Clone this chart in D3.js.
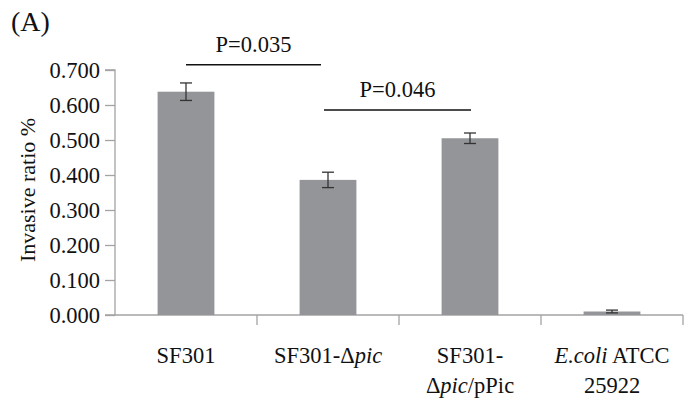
<!DOCTYPE html>
<html><head><meta charset="utf-8">
<script src="https://cdn.jsdelivr.net/npm/d3@7"></script>
<style>body{margin:0;background:#fff}svg{display:block}svg text{font-family:"Liberation Serif","Times New Roman",serif}</style>
</head><body><svg id="c" width="687" height="403"></svg>
<script>
const categories = ["SF301", "SF301-Δpic", "SF301-Δpic/pPic", "E.coli ATCC 25922"];
const values = [0.638, 0.386, 0.505, 0.010];
const errors = [0.025, 0.022, 0.015, 0.004];
const yTicks = [0, 0.1, 0.2, 0.3, 0.4, 0.5, 0.6, 0.7];
const sigPairs = [{a:0, b:1, label:"P=0.035", level:0.715}, {a:1, b:2, label:"P=0.046", level:0.586}];

(function(){
const svg = d3.select("#c");
const mLeft = 115, mRight = 683, mTop = 70, mBottom = 315;
const x = d3.scaleBand().domain(categories).range([mLeft, mRight]).paddingInner(0).paddingOuter(0);
const y = d3.scaleLinear().domain([0, 0.7]).range([mBottom, mTop]);
const axisColor = "#a3a3a3";
const fs = "22.5px";

// Y axis
const ya = svg.append("g").attr("transform", `translate(${mLeft},0)`)
  .call(d3.axisLeft(y).tickValues(yTicks).tickFormat(d3.format(".3f")).tickSize(10).tickPadding(5));
ya.select(".domain").attr("stroke", axisColor).attr("stroke-width", 1.3).attr("d", `M-10,${mTop}H0V${mBottom}H-10`);
ya.selectAll(".tick line").attr("stroke", axisColor).attr("stroke-width", 1.3);
ya.selectAll(".tick text").attr("font-family", null).style("font-size", fs).attr("fill", "#111");

// X axis
const xa = svg.append("g").attr("transform", `translate(0,${mBottom})`)
  .call(d3.axisBottom(x).tickSize(0).tickFormat(""));
xa.select(".domain").attr("stroke", axisColor).attr("stroke-width", 1.3).attr("d", `M${mLeft},0H${mRight}`);
const bounds = categories.map((c) => x(c) + x.bandwidth());
svg.append("g").selectAll("line").data(bounds).join("line")
  .attr("x1", d => d).attr("x2", d => d).attr("y1", mBottom).attr("y2", mBottom + 10)
  .attr("stroke", axisColor).attr("stroke-width", 1.3);

// bars
const bw = x.bandwidth() * 0.4;
const cx = c => x(c) + x.bandwidth() / 2;
svg.append("g").selectAll("rect").data(categories).join("rect")
  .attr("x", c => cx(c) - bw / 2).attr("width", bw)
  .attr("y", (c, i) => y(values[i])).attr("height", (c, i) => y(0) - y(values[i]))
  .attr("fill", "#939598");

// error bars
const eg = svg.append("g").attr("stroke", "#333").attr("stroke-width", 1.3);
categories.forEach((c, i) => {
  const xc = cx(c), w = 6;
  eg.append("line").attr("x1", xc).attr("x2", xc).attr("y1", y(values[i] + errors[i])).attr("y2", y(values[i] - errors[i]));
  eg.append("line").attr("x1", xc - w).attr("x2", xc + w).attr("y1", y(values[i] + errors[i])).attr("y2", y(values[i] + errors[i]));
  eg.append("line").attr("x1", xc - w).attr("x2", xc + w).attr("y1", y(values[i] - errors[i])).attr("y2", y(values[i] - errors[i]));
});

// significance
const offs = [[0, -7], [-4, 1]];
sigPairs.forEach((p, k) => {
  const x1 = cx(categories[p.a]) + offs[k][0], x2 = cx(categories[p.b]) + offs[k][1];
  const yy = y(p.level);
  svg.append("line").attr("x1", x1).attr("x2", x2).attr("y1", yy).attr("y2", yy).attr("stroke", "#111").attr("stroke-width", 1.5);
  svg.append("text").attr("x", (x1 + x2) / 2).attr("y", yy - 13).attr("text-anchor", "middle")
    .style("font-size", fs).attr("fill", "#111").text(p.label);
});

// x labels
const lbl = svg.append("g").style("font-size", fs).attr("fill", "#111").attr("text-anchor", "middle");
const L1 = 363, L2 = 393;
function t(xc, yy) { return lbl.append("text").attr("x", xc).attr("y", yy); }
t(cx(categories[0]), L1).text("SF301");
{ const e = t(cx(categories[1]), L1); e.append("tspan").text("SF301-Δ"); e.append("tspan").attr("font-style","italic").text("pic"); }
t(cx(categories[2]), L1).text("SF301-");
{ const e = t(cx(categories[2]), L2); e.append("tspan").text("Δ"); e.append("tspan").attr("font-style","italic").text("pic"); e.append("tspan").text("/pPic"); }
{ const e = t(cx(categories[3]), L1); e.append("tspan").attr("font-style","italic").text("E.coli"); e.append("tspan").text(" ATCC"); }
t(cx(categories[3]), L2).text("25922");

// y label
svg.append("text").attr("transform", "translate(35,190) rotate(-90)").attr("text-anchor", "middle")
  .style("font-size", "22px").attr("fill", "#111").text("Invasive ratio %");

// panel label
svg.append("text").attr("x", 11).attr("y", 31).style("font-size", "28px").attr("fill", "#111").text("(A)");
})();
</script></body></html>
